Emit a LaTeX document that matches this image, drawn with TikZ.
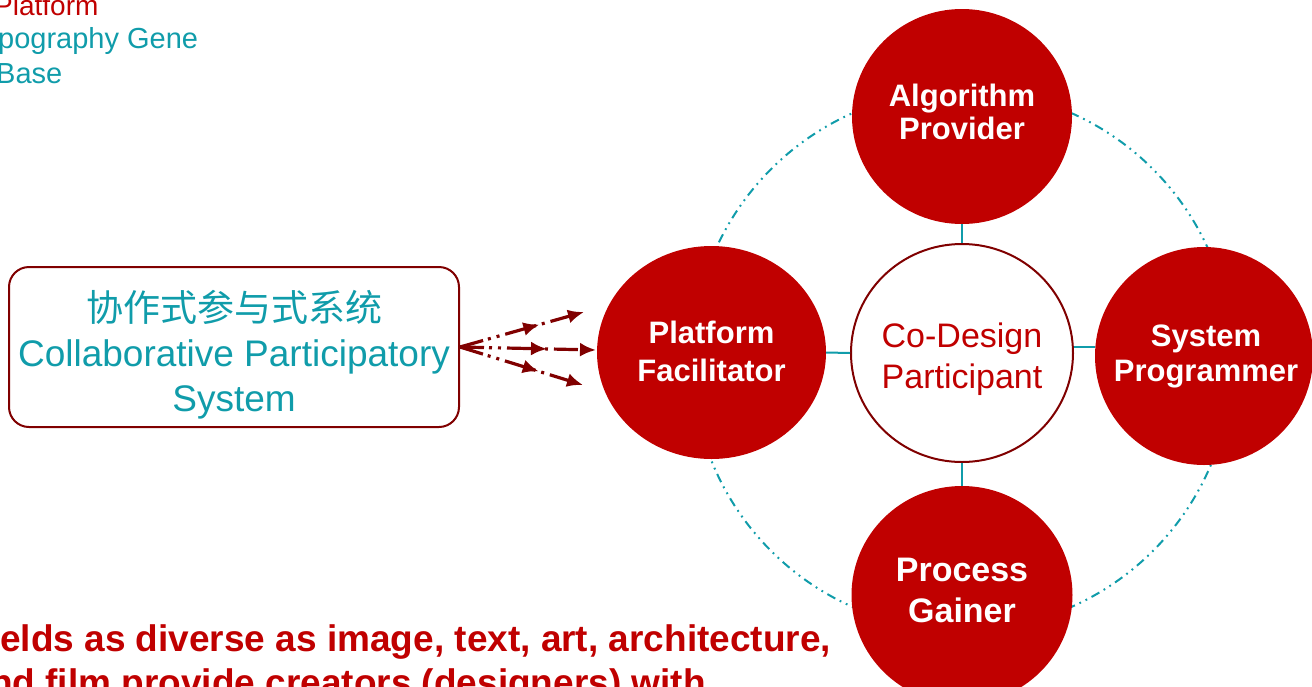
\documentclass[tikz,border=0pt]{standalone}
\usepackage{fontspec}
\setmainfont{Liberation Sans}
\newfontfamily\cjk{Noto Sans CJK SC}
\usetikzlibrary{arrows.meta,decorations.markings,shapes.geometric}
\definecolor{cdred}{RGB}{192,0,0}
\definecolor{cdteal}{RGB}{16,156,170}
\definecolor{cdmaroon}{RGB}{128,0,0}
\begin{document}
\begin{tikzpicture}[x=1pt,y=-1pt,
  role/.style={ellipse, fill=cdred, inner sep=0pt},
  rolelab/.style={text=white, align=center, inner sep=0pt},
  link/.style={draw=cdteal, line width=2pt},
  orbit/.style={draw=cdteal, line width=2pt, dash pattern=on 9pt off 5pt on 1.8pt off 5pt on 1.8pt off 5pt},
  flow/.style={draw=cdmaroon, line width=3.2pt,
    dash pattern=on 24pt off 5pt on 3pt off 6pt on 3pt off 6pt,
    -{Latex[length=16pt,width=14pt]},
    decoration={markings, mark=at position 0.64 with {\arrow{Latex[length=16pt,width=14pt]}}},
    postaction={decorate}},
  corner/.style={anchor=base west, inner sep=0pt},
]
\useasboundingbox (0,0) rectangle (1312,686);

% dash-dot-dot ring
\node[circle, orbit, minimum size=540pt, inner sep=0pt] (ring) at (962,360) {};

% centre and role circles
\node[ellipse, fill=white, draw=cdmaroon, line width=2pt, minimum width=222pt, minimum height=218pt, inner sep=0pt,
  label={[text=cdred, align=center, inner sep=0pt, yshift=-6pt, font=\fontsize{34}{41}\selectfont]center:Co-Design\\Participant}] (cd) at (962,353) {};
\node[role, minimum width=220pt, minimum height=215pt,
  label={[rolelab, yshift=5pt, font=\bfseries\fontsize{31}{33}\selectfont]center:Algorithm\\Provider}] (ap) at (962,116.5) {};
\node[role, minimum width=229pt, minimum height=213pt,
  label={[rolelab, yshift=1pt, font=\bfseries\fontsize{31}{38}\selectfont]center:Platform\\Facilitator}] (pf) at (711.5,352.5) {};
\node[role, minimum width=218pt, minimum height=218pt,
  label={[rolelab, xshift=2pt, font=\bfseries\fontsize{31}{35}\selectfont]center:System\\Programmer}] (sp) at (1204,356) {};
\node[role, minimum width=221pt, minimum height=218pt,
  label={[rolelab, yshift=5pt, font=\bfseries\fontsize{34}{41}\selectfont]center:Process\\Gainer}] (pg) at (962,595) {};

% spokes
\draw[link] (cd.north) -- (ap.south);
\draw[link] (cd.west) -- (pf.east);
\draw[link] (cd.3) -- (cd.3 -| sp.west);
\draw[link] (cd.south) -- (pg.north);

% left box
\node[draw=cdmaroon, line width=2pt, rounded corners=20pt, minimum width=450pt, minimum height=160pt,
  label={[text=cdteal, align=center, inner sep=0pt, yshift=-8pt, font=\fontsize{37}{45}\selectfont]center:{\cjk 协作式参与式系统}\\Collaborative Participatory\\System}] (box) at (234,347) {};

% fan of arrows
\coordinate (t1) at (584,312);
\coordinate (t2) at (596,350);
\coordinate (t3) at (583,385);
\draw[flow] (box.east) -- (t1);
\draw[flow] (box.east) -- (t2);
\draw[flow] (box.east) -- (t3);

% clipped corner texts
\node[corner, text=cdred, font=\fontsize{28}{30}\selectfont] (tl1) at (-6,15) {Platform};
\node[corner, text=cdteal, font=\fontsize{29}{30}\selectfont] (tl2) at (-2,48) {pography Gene};
\node[corner, text=cdteal, font=\fontsize{29}{30}\selectfont] (tl3) at (-4,83) {Base};
\node[corner, text=cdred, font=\bfseries\fontsize{37}{44}\selectfont] (bt1) at (0,651) {elds as diverse as image, text, art, architecture,};
\node[corner, text=cdred, font=\bfseries\fontsize{37}{44}\selectfont] (bt2) at (-10,695) {nd film provide creators (designers) with};
\end{tikzpicture}
\end{document}
